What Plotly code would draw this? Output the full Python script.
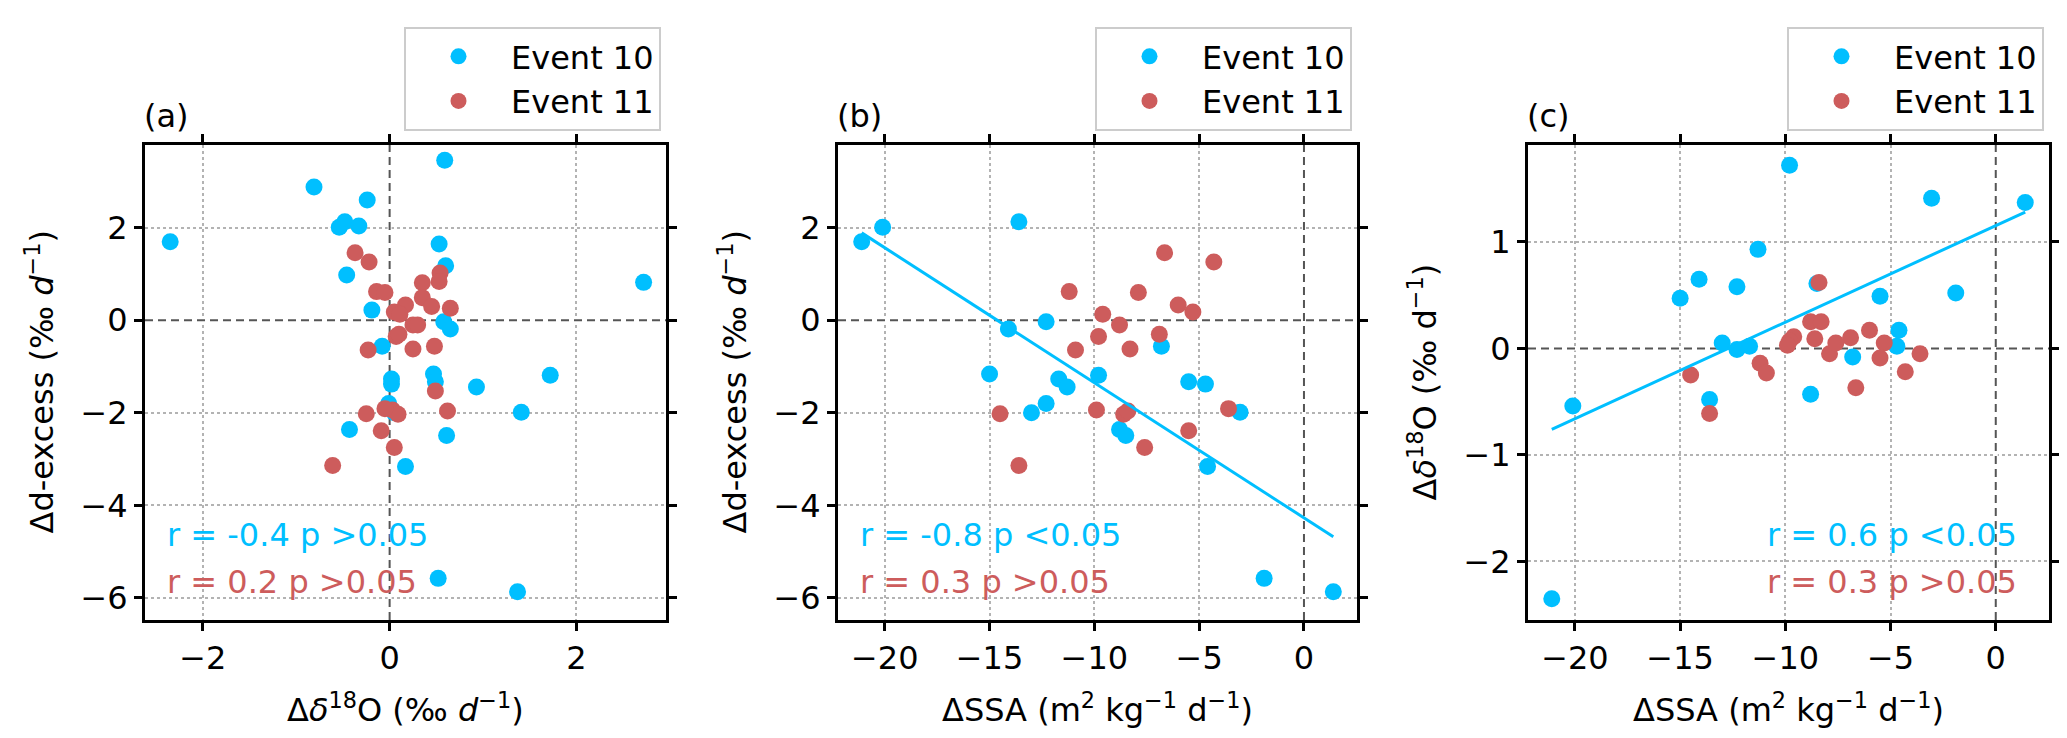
import plotly.graph_objects as go

# Event 10 (blue): d18O change, d-excess change, SSA change (None = no SSA value)
ev10_d18o = [-2.35, -0.54, -0.48, 0.58, -0.01, 0.65, -0.08, 0.47, 0.02, 0.93,
             1.72, 0.05, -0.43, 0.61, 0.49, 0.02, 0.17, 1.41, 0.52, 1.37,
             -0.81, -0.24, -0.33, 0.59, 0.53, 0.60, -0.46, -0.19, 2.72]
ev10_dxs = [1.70, 2.01, 2.13, -0.03, -1.80, -0.19, -0.56, -1.16, -1.27, -1.44,
            -1.19, -2.00, -2.36, -2.49, -1.33, -1.38, -3.16, -1.99, -5.58, -5.87,
            2.88, 2.60, 2.04, 3.46, 1.65, 1.18, 0.98, 0.22, 0.82]
ev10_ssa = [-21.1, -20.1, -13.6, -12.3, -12.3, -14.1, -6.8, -15.0, -11.7, -11.3,
            -9.8, -13.0, -8.8, -8.5, -5.5, -4.7, -4.6, -3.05, -1.9, 1.4,
            None, None, None, None, None, None, None, None, None]

# Event 11 (red)
ev11_d18o = [-0.37, -0.22, -0.14, -0.05, 0.17, 0.05, 0.11, 0.25, 0.07, 0.10,
             -0.23, 0.25, -0.25, 0.03, 0.09, 0.62, -0.09, -0.05, 0.05, -0.61,
             0.35, 0.35, 0.54, 0.53, 0.45, 0.65, 0.30, 0.48, 0.49]
ev11_dxs = [1.46, 1.26, 0.62, 0.60, 0.33, 0.18, 0.13, -0.10, -0.35, -0.30,
            -0.64, -0.62, -2.02, -1.94, -2.03, -1.96, -2.39, -1.91, -2.75, -3.14,
            0.81, 0.49, 1.02, 0.84, 0.30, 0.26, -0.10, -0.56, -1.53]
ev11_ssa = [-6.65, -4.3, -11.2, -7.9, -6.0, -5.3, -9.6, -8.8, -9.8, -6.9,
            -10.9, -8.3, -14.5, -9.9, -8.6, -8.4, -5.5, -3.6, -7.6, -13.6,
            None, None, None, None, None, None, None, None, None]

# regression lines of Event 10 (end points)
fit_ssa = [-21.1, 1.4]
fit_b_dxs = [1.89, -4.68]
fit_c_d18o = [-0.76, 1.28]

stats_a = ["r = -0.4 p >0.05", "r = 0.2 p >0.05"]
stats_b = ["r = -0.8 p <0.05", "r = 0.3 p >0.05"]
stats_c = ["r = 0.6 p <0.05", "r = 0.3 p >0.05"]

BLUE = "#00BFFF"
RED = "#CD5C5C"
W, H = 2067, 738
FONT = "DejaVu Sans"
FS = 32

boxes = [(137, 658), (830, 1349), (1520, 2041)]
ytop, ybot = 137, 612

xranges = [[-2.62, 2.96], [-22.23, 2.53], [-22.23, 2.53]]
yranges = [[-6.48, 3.79], [-6.48, 3.79], [-2.55, 1.91]]
xticks = [[-2, 0, 2], [-20, -15, -10, -5, 0], [-20, -15, -10, -5, 0]]
yticks = [[-6, -4, -2, 0, 2], [-6, -4, -2, 0, 2], [-2, -1, 0, 1]]


def fx(p):
    return p / W


def fy(p):
    return 1 - p / H


def with_ssa(ssa, vals):
    pairs = [(s, v) for s, v in zip(ssa, vals) if s is not None]
    return [p[0] for p in pairs], [p[1] for p in pairs]


fig = go.Figure()

# dashed zero lines first (white underlay hides the dotted grid line at 0)
for i in range(3):
    xa = "x" if i == 0 else "x" + str(i + 1)
    ya = "y" if i == 0 else "y" + str(i + 1)
    for col, w, dash in [("white", 4, "solid"), ("#555555", 2, "8px,5px")]:
        fig.add_trace(go.Scatter(x=[0, 0], y=yranges[i], mode="lines", showlegend=False,
                                 hoverinfo="skip", xaxis=xa, yaxis=ya,
                                 line=dict(color=col, width=w, dash=dash)))
        fig.add_trace(go.Scatter(x=xranges[i], y=[0, 0], mode="lines", showlegend=False,
                                 hoverinfo="skip", xaxis=xa, yaxis=ya,
                                 line=dict(color=col, width=w, dash=dash)))

panels = [
    ("x", "y", "legend", ev10_d18o, ev10_dxs, ev11_d18o, ev11_dxs),
    ("x2", "y2", "legend2") + with_ssa(ev10_ssa, ev10_dxs) + with_ssa(ev11_ssa, ev11_dxs),
    ("x3", "y3", "legend3") + with_ssa(ev10_ssa, ev10_d18o) + with_ssa(ev11_ssa, ev11_d18o),
]
for xa, ya, lg, bx, by, rx, ry in panels:
    fig.add_trace(go.Scatter(x=bx, y=by, mode="markers", name="Event 10", legend=lg,
                             xaxis=xa, yaxis=ya,
                             marker=dict(color=BLUE, size=17, line=dict(width=0))))
    fig.add_trace(go.Scatter(x=rx, y=ry, mode="markers", name="Event 11", legend=lg,
                             xaxis=xa, yaxis=ya,
                             marker=dict(color=RED, size=17, line=dict(width=0))))

fig.add_trace(go.Scatter(x=fit_ssa, y=fit_b_dxs, mode="lines", showlegend=False,
                         xaxis="x2", yaxis="y2", line=dict(color=BLUE, width=3)))
fig.add_trace(go.Scatter(x=fit_ssa, y=fit_c_d18o, mode="lines", showlegend=False,
                         xaxis="x3", yaxis="y3", line=dict(color=BLUE, width=3)))

axis_common = dict(
    showline=True, linecolor="black", linewidth=3, mirror="ticks",
    ticks="outside", ticklen=8, tickwidth=3, tickcolor="black",
    showgrid=True, gridcolor="#b3b3b3", gridwidth=2, griddash="dot",
    zeroline=False, tickfont=dict(size=FS, color="black", family=FONT),
)
inner_common = dict(
    showline=True, linecolor="black", linewidth=3, mirror="ticks",
    ticks="inside", ticklen=8, tickwidth=3, tickcolor="black",
    showgrid=False, zeroline=False, showticklabels=False,
)

layout = {}
for i, (x0, x1) in enumerate(boxes):
    n = "" if i == 0 else str(i + 1)
    m = str(i + 4)
    layout["xaxis" + n] = dict(axis_common, domain=[fx(x0), fx(x1)], range=xranges[i],
                               tickvals=xticks[i], anchor="y" + n)
    layout["yaxis" + n] = dict(axis_common, domain=[fy(ybot), fy(ytop)], range=yranges[i],
                               tickvals=yticks[i], anchor="x" + n)
    layout["xaxis" + m] = dict(inner_common, overlaying="x" + n, anchor="y" + n,
                               range=xranges[i], tickvals=xticks[i])
    layout["yaxis" + m] = dict(inner_common, overlaying="y" + n, anchor="x" + n,
                               range=yranges[i], tickvals=yticks[i])
fig.update_layout(**layout)

# legends
for i, (x0, x1) in enumerate(boxes):
    name = "legend" if i == 0 else "legend" + str(i + 1)
    fig.update_layout({name: dict(
        x=fx(x1 - 5), y=fy(19), xanchor="right", yanchor="top",
        bgcolor="white", bordercolor="#cccccc", borderwidth=2,
        font=dict(size=FS, color="black", family=FONT), itemwidth=95,
    )})

ann = []
labels = ["(a)", "(b)", "(c)"]
xtitles = ["Δ<i>δ</i><sup>18</sup>O (‰ <i>d</i><sup>−1</sup>)",
           "ΔSSA (m<sup>2</sup> kg<sup>−1</sup> d<sup>−1</sup>)",
           "ΔSSA (m<sup>2</sup> kg<sup>−1</sup> d<sup>−1</sup>)"]
ytitles = ["Δd-excess (‰ <i>d</i><sup>−1</sup>)",
           "Δd-excess (‰ <i>d</i><sup>−1</sup>)",
           "Δ<i>δ</i><sup>18</sup>O (‰ d<sup>−1</sup>)"]
stats = [stats_a, stats_b, stats_c]
for i, (x0, x1) in enumerate(boxes):
    ann.append(dict(text=labels[i], x=fx(x0 - 3), y=fy(108), xref="paper", yref="paper",
                    xanchor="left", yanchor="middle", showarrow=False,
                    font=dict(size=FS, color="black")))
    ann.append(dict(text=xtitles[i], x=fx((x0 + x1) / 2), y=fy(700), xref="paper", yref="paper",
                    xanchor="center", yanchor="middle", showarrow=False,
                    font=dict(size=FS, color="black")))
    ann.append(dict(text=ytitles[i], x=fx(x0 - 105), y=fy((ytop + ybot) / 2), xref="paper",
                    yref="paper", xanchor="center", yanchor="middle", textangle=-90,
                    showarrow=False, font=dict(size=FS, color="black")))
    if i < 2:
        sx, anchor = fx(x0 + 20), "left"
    else:
        sx, anchor = fx(x1 - 30), "right"
    for txt, col, yy in zip(stats[i], [BLUE, RED], [527, 574]):
        ann.append(dict(text=txt, x=sx, y=fy(yy), xref="paper", yref="paper",
                        xanchor=anchor, yanchor="middle", showarrow=False,
                        font=dict(size=FS, color=col)))

fig.update_layout(
    width=W, height=H, margin=dict(l=0, r=0, t=0, b=0),
    paper_bgcolor="white", plot_bgcolor="white",
    font=dict(family=FONT, size=FS, color="black"),
    annotations=ann,
)

fig.write_html("out.html")
